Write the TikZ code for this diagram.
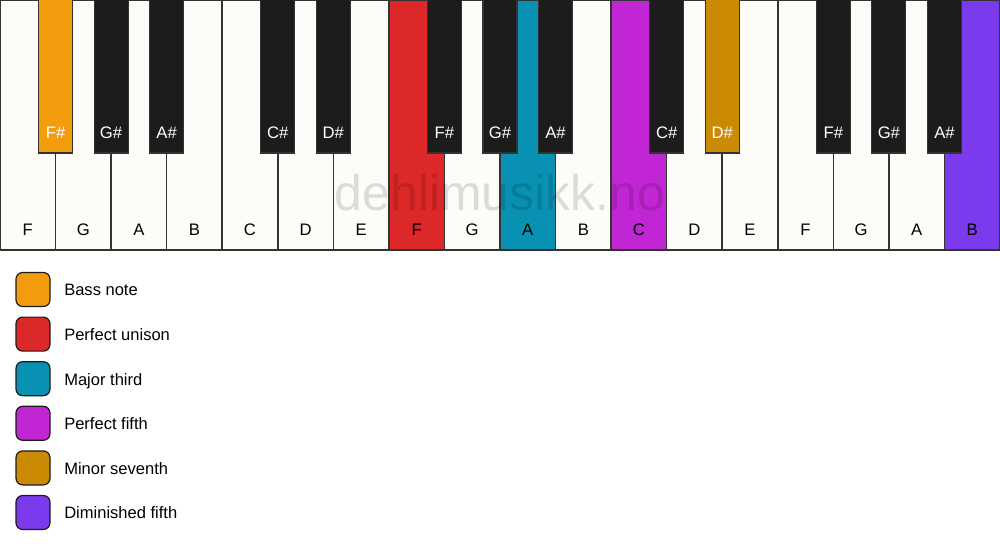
\documentclass[tikz,border=0pt]{standalone}
\usepackage{fontspec}
\setmainfont{Liberation Sans}
\definecolor{wkey}{HTML}{FDFCF8}
\definecolor{bkey}{HTML}{1C1C1C}
\definecolor{cbass}{HTML}{F39C0E}
\definecolor{cunison}{HTML}{DC2828}
\definecolor{cthird}{HTML}{0891B2}
\definecolor{cfifth}{HTML}{C026D3}
\definecolor{cseventh}{HTML}{CA8A04}
\definecolor{cdim}{HTML}{7C3AED}
\definecolor{edge}{HTML}{333333}
\begin{document}
\begin{tikzpicture}[x=0.75pt,y=-0.75pt,
  whitekey/.style={draw=edge,line width=1.1pt,fill=wkey},
  blackkey/.style={draw=edge,line width=0.9pt,fill=bkey},
  wlabel/.style={font=\fontsize{12.5}{14}\selectfont,text=black},
  blabel/.style={font=\fontsize{12.5}{14}\selectfont,text=white},
  legbox/.style={draw=bkey,line width=0.9pt,rounded corners=5pt,minimum width=25.5pt,minimum height=25.5pt,inner sep=0pt},
  legtext/.style={font=\fontsize{12.4}{14}\selectfont,anchor=base west,inner sep=0pt}]
\useasboundingbox (0,0) rectangle (1000,550);
\fill[white] (0,0) rectangle (1000,550);
\def\ww{55.5556}
% white keys
\foreach \i/\n/\c in {0/F/wkey,1/G/wkey,2/A/wkey,3/B/wkey,4/C/wkey,5/D/wkey,6/E/wkey,7/F/cunison,8/G/wkey,9/A/cthird,10/B/wkey,11/C/cfifth,12/D/wkey,13/E/wkey,14/F/wkey,15/G/wkey,16/A/wkey,17/B/cdim}{
  \draw[whitekey,fill=\c] ({\i*\ww},0) rectangle ({(\i+1)*\ww},250);
  \node[wlabel] (w\i) at ({(\i+0.5)*\ww},230) {\n};
}
% black keys
\foreach \k/\n/\c in {1/F\#/cbass,2/G\#/bkey,3/A\#/bkey,5/C\#/bkey,6/D\#/bkey,8/F\#/bkey,9/G\#/bkey,10/A\#/bkey,12/C\#/bkey,13/D\#/cseventh,15/F\#/bkey,16/G\#/bkey,17/A\#/bkey}{
  \draw[blackkey,fill=\c] ({\k*\ww-17},-1) rectangle ({\k*\ww+17},153);
  \node[blabel] (b\k) at ({\k*\ww},133) {\n};
}
% watermark
\node[font=\fontsize{37.5}{40}\selectfont,text=black,text opacity=0.13] (wm) at (500,193) {dehlimusikk.no};
% legend
\foreach \j/\c/\t in {0/cbass/Bass note,1/cunison/Perfect unison,2/cthird/Major third,3/cfifth/Perfect fifth,4/cseventh/Minor seventh,5/cdim/Diminished fifth}{
  \node[legbox,fill=\c] (l\j) at (33,{289.5+\j*44.6}) {};
  \node[legtext] (t\j) at (64,{295.8+\j*44.6}) {\t};
}
\end{tikzpicture}
\end{document}
